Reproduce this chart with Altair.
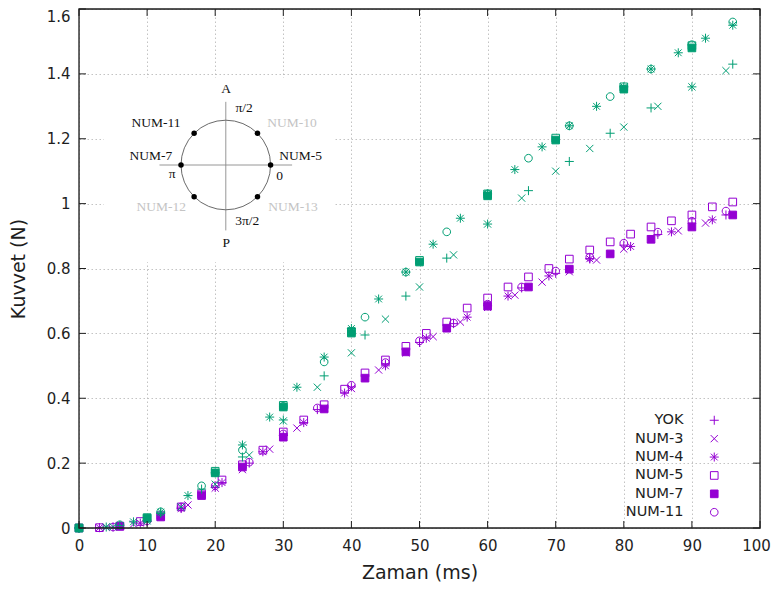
import altair as alt
import pandas as pd

SERIES = ["YOK", "NUM-3", "NUM-4", "NUM-5", "NUM-7", "NUM-11"]
GREEN = "#009e73"
PURPLE = "#9400d3"
INK = "#1e1e1e"

# ---- green group (upper curves) ----
G_YOK_T = [0, 6, 12, 18, 24, 30, 36, 42, 48, 54, 60, 66, 72, 78, 84, 90, 96]
G_YOK_F = [0, 0.008, 0.045, 0.12, 0.219, 0.333, 0.469, 0.595, 0.715, 0.832, 0.937, 1.04, 1.13, 1.217, 1.295, 1.36, 1.43]
G_N3_T = [0, 5, 10, 15, 20, 25, 30, 35, 40, 45, 50, 55, 60, 65, 70, 75, 80, 85, 90, 95]
G_N3_F = [0, 0.004, 0.022, 0.065, 0.135, 0.225, 0.33, 0.434, 0.54, 0.644, 0.743, 0.842, 0.937, 1.017, 1.10, 1.17, 1.236, 1.30, 1.36, 1.41]
G_N4_T = [0, 4, 8, 12, 16, 20, 24, 28, 32, 36, 40, 44, 48, 52, 56, 60, 64, 68, 72, 76, 80, 84, 88, 92, 96]
G_N4_F = [0, 0.003, 0.019, 0.049, 0.10, 0.17, 0.256, 0.342, 0.434, 0.527, 0.615, 0.706, 0.789, 0.875, 0.955, 1.03, 1.105, 1.175, 1.24, 1.30, 1.36, 1.415, 1.465, 1.51, 1.55]
G_N5_T = [0, 10, 20, 30, 40, 50, 60, 70, 80, 90]
G_N5_F = [0, 0.032, 0.175, 0.378, 0.606, 0.825, 1.03, 1.202, 1.36, 1.487]
G_N7_T = [0, 10, 20, 30, 40, 50, 60, 70, 80, 90]
G_N7_F = [0, 0.03, 0.17, 0.373, 0.601, 0.82, 1.024, 1.196, 1.353, 1.48]
G_N11_T = [0, 6, 12, 18, 24, 30, 36, 42, 48, 54, 60, 66, 72, 78, 84, 90, 96]
G_N11_F = [0, 0.01, 0.05, 0.13, 0.24, 0.375, 0.512, 0.65, 0.789, 0.913, 1.03, 1.14, 1.24, 1.33, 1.415, 1.49, 1.56]

# ---- purple group (lower curves) ----
P_YOK_T = [0, 5, 10, 15, 20, 25, 30, 35, 40, 45, 50, 55, 60, 65, 70, 75, 80, 85, 90, 95]
P_YOK_F = [0, 0.003, 0.02, 0.062, 0.125, 0.2, 0.285, 0.365, 0.435, 0.505, 0.572, 0.63, 0.685, 0.74, 0.785, 0.83, 0.872, 0.905, 0.94, 0.965]
P_N3_T = [0, 4, 8, 12, 16, 20, 24, 28, 32, 36, 40, 44, 48, 52, 56, 60, 64, 68, 72, 76, 80, 84, 88, 92]
P_N3_F = [0, 0.002, 0.012, 0.035, 0.071, 0.123, 0.18, 0.243, 0.308, 0.37, 0.43, 0.487, 0.54, 0.59, 0.635, 0.68, 0.718, 0.758, 0.79, 0.826, 0.86, 0.89, 0.916, 0.94]
P_N4_T = [3, 9, 15, 21, 27, 33, 39, 45, 51, 57, 63, 69, 75, 81, 87, 93]
P_N4_F = [0.001, 0.015, 0.06, 0.14, 0.235, 0.325, 0.416, 0.50, 0.585, 0.65, 0.715, 0.777, 0.83, 0.868, 0.913, 0.95]
P_N5_T = [3, 6, 9, 12, 15, 18, 21, 24, 27, 30, 33, 36, 39, 42, 45, 48, 51, 54, 57, 60, 63, 66, 69, 72, 75, 78, 81, 84, 87, 90, 93, 96]
P_N5_F = [0.001, 0.005, 0.02, 0.038, 0.065, 0.105, 0.148, 0.195, 0.24, 0.296, 0.333, 0.38, 0.428, 0.478, 0.518, 0.56, 0.60, 0.635, 0.678, 0.709, 0.743, 0.774, 0.80, 0.829, 0.857, 0.882, 0.906, 0.928, 0.947, 0.965, 0.99, 1.005]
P_N7_T = [0, 6, 12, 18, 24, 30, 36, 42, 48, 54, 60, 66, 72, 78, 84, 90, 96]
P_N7_F = [0, 0.006, 0.034, 0.10, 0.188, 0.28, 0.367, 0.462, 0.543, 0.616, 0.684, 0.743, 0.798, 0.845, 0.89, 0.928, 0.965]
P_N11_T = [0, 5, 10, 15, 20, 25, 30, 35, 40, 45, 50, 55, 60, 65, 70, 75, 80, 85, 90, 95]
P_N11_F = [0, 0.003, 0.022, 0.065, 0.13, 0.203, 0.29, 0.37, 0.44, 0.51, 0.577, 0.632, 0.69, 0.743, 0.792, 0.835, 0.878, 0.912, 0.946, 0.977]

X_TICKS = [0, 10, 20, 30, 40, 50, 60, 70, 80, 90, 100]
Y_TICKS = [0, 0.2, 0.4, 0.6, 0.8, 1.0, 1.2, 1.4, 1.6]

# ---- inset diagram (unit circle coordinates) ----
DOT_U = [1, 0.7071, -0.7071, -1, -0.7071, 0.7071]
DOT_V = [0, 0.7071, 0.7071, 0, -0.7071, -0.7071]
LAB_TEXT = ["A", "P", "π/2", "3π/2", "0", "π", "NUM-11", "NUM-10", "NUM-7", "NUM-5", "NUM-12", "NUM-13"]
LAB_U = [0.01, 0.01, 0.41, 0.48, 1.2, -1.2, -1.56, 1.48, -1.67, 1.67, -1.44, 1.5]
LAB_V = [1.69, -1.73, 1.28, -1.26, -0.24, -0.2, 0.93, 0.93, 0.2, 0.2, -0.94, -0.94]
LAB_COL = ["#111111", "#111111", "#111111", "#111111", "#111111", "#111111",
           "#111111", "#c4c4c4", "#111111", "#111111", "#c4c4c4", "#c4c4c4"]

PATHS = {
    "YOK": "M-1,0L1,0M0,-1L0,1",
    "NUM-3": "M-0.8,-0.8L0.8,0.8M-0.8,0.8L0.8,-0.8",
    "NUM-4": "M-1,0L1,0M0,-1L0,1M-0.75,-0.75L0.75,0.75M-0.75,0.75L0.75,-0.75",
    "NUM-5": "M-0.85,-0.85L0.85,-0.85L0.85,0.85L-0.85,0.85Z",
    "NUM-7": "M-0.85,-0.85L0.85,-0.85L0.85,0.85L-0.85,0.85Z",
    "NUM-11": "M0.85,0A0.85,0.85,0,1,1,-0.85,0A0.85,0.85,0,1,1,0.85,0Z",
}

W, H = 681, 519
TICK = 7


def frame(pairs):
    rows = []
    for name, ts, fs in pairs:
        for t, f in zip(ts, fs):
            rows.append({"series": name, "t": t, "f": f, "path": PATHS[name]})
    return pd.DataFrame(rows)


purple_df = frame([
    ("YOK", P_YOK_T, P_YOK_F), ("NUM-3", P_N3_T, P_N3_F), ("NUM-4", P_N4_T, P_N4_F),
    ("NUM-5", P_N5_T, P_N5_F), ("NUM-7", P_N7_T, P_N7_F), ("NUM-11", P_N11_T, P_N11_F),
])
green_open_df = frame([
    ("YOK", G_YOK_T, G_YOK_F), ("NUM-3", G_N3_T, G_N3_F), ("NUM-4", G_N4_T, G_N4_F),
    ("NUM-5", G_N5_T, G_N5_F), ("NUM-11", G_N11_T, G_N11_F),
])
green_fill_df = frame([("NUM-7", G_N7_T, G_N7_F)])

xs = alt.Scale(domain=[0, 100], nice=False, zero=False)
ys = alt.Scale(domain=[0, 1.6], nice=False, zero=False)

main_x_axis = alt.Axis(values=X_TICKS, grid=True, ticks=False, tickSize=0, domain=False, labelFlush=False,
                       labelOffset={"condition": {"test": "datum.value > 99", "value": -4}, "value": 0},
                       gridColor="#b4b4b4", gridDash=[1.5, 2.5], gridWidth=0.8,
                       labelFont="DejaVu Sans", labelFontSize=15, labelColor=INK, labelPadding=10,
                       title="Zaman (ms)", titleFont="DejaVu Sans", titleFontSize=19,
                       titleFontWeight="normal", titleColor=INK, titlePadding=10, orient="bottom")
main_y_axis = alt.Axis(values=Y_TICKS, grid=True, ticks=False, tickSize=0, domain=False, format="~g",
                       labelFlush=False,
                       labelOffset={"condition": {"test": "datum.value > 1.59", "value": 7}, "value": 0},
                       gridColor="#b4b4b4", gridDash=[1.5, 2.5], gridWidth=0.8,
                       labelFont="DejaVu Sans", labelFontSize=15, labelColor=INK, labelPadding=9,
                       title="Kuvvet (N)", titleFont="DejaVu Sans", titleFontSize=19,
                       titleFontWeight="normal", titleColor=INK, titlePadding=18, orient="left")

legend = alt.Legend(orient="none", legendX=628, legendY=404, title=None,
                    labelAlign="right", labelOffset={"expr": "-38"}, labelFont="DejaVu Sans",
                    labelFontSize=14.5, labelColor=INK, symbolStrokeColor=PURPLE,
                    symbolStrokeWidth=1, symbolSize=81, rowPadding=3.4, padding=0)

purple = alt.Chart(purple_df).mark_point(size=81, opacity=1, strokeWidth=1).encode(
    x=alt.X("t:Q", scale=xs, axis=main_x_axis),
    y=alt.Y("f:Q", scale=ys, axis=main_y_axis),
    stroke=alt.Stroke("series:N", scale=alt.Scale(domain=SERIES, range=[PURPLE] * 6), legend=legend),
    shape=alt.Shape("series:N", scale=alt.Scale(domain=SERIES, range=[PATHS[s] for s in SERIES]),
                    legend=legend),
    fill=alt.Fill("series:N", scale=alt.Scale(domain=SERIES,
                  range=["transparent", "transparent", "transparent", "transparent", PURPLE, "transparent"]),
                  legend=legend),
)

green_fill = alt.Chart(green_fill_df).mark_point(size=81, opacity=1, strokeWidth=1, filled=True,
                                                 shape=PATHS["NUM-7"]).encode(
    x=alt.X("t:Q", scale=xs, axis=None),
    y=alt.Y("f:Q", scale=ys, axis=None),
    fill=alt.value(GREEN),
    stroke=alt.value(GREEN),
)

green_open = alt.Chart(green_open_df).mark_point(size=81, opacity=1, strokeWidth=1).encode(
    x=alt.X("t:Q", scale=xs, axis=None),
    y=alt.Y("f:Q", scale=ys, axis=None),
    shape=alt.Shape("path:N", scale=None),
    fill=alt.value("transparent"),
    stroke=alt.value(GREEN),
)

# plot frame drawn through the scales (domain extremes)
frame_df = pd.DataFrame({"t0": [0], "t1": [100], "f0": [0], "f1": [1.6]})
border = alt.Chart(frame_df).mark_rect(fill="transparent", stroke=INK, strokeWidth=1.3).encode(
    x=alt.X("t0:Q", scale=xs, axis=None), x2="t1:Q",
    y=alt.Y("f0:Q", scale=ys, axis=None), y2="f1:Q",
)

# inward ticks on all four sides
xt_df = pd.DataFrame({"v": X_TICKS})
yt_df = pd.DataFrame({"v": Y_TICKS})
xt_bottom = alt.Chart(xt_df).mark_rule(color=INK, strokeWidth=1).encode(
    x=alt.X("v:Q", scale=xs, axis=None), y=alt.value(H), y2=alt.value(H - TICK))
xt_top = alt.Chart(xt_df).mark_rule(color=INK, strokeWidth=1).encode(
    x=alt.X("v:Q", scale=xs, axis=None), y=alt.value(0), y2=alt.value(TICK))
yt_left = alt.Chart(yt_df).mark_rule(color=INK, strokeWidth=1).encode(
    y=alt.Y("v:Q", scale=ys, axis=None), x=alt.value(0), x2=alt.value(TICK))
yt_right = alt.Chart(yt_df).mark_rule(color=INK, strokeWidth=1).encode(
    y=alt.Y("v:Q", scale=ys, axis=None), x=alt.value(W), x2=alt.value(W - TICK))

main = alt.layer(purple, green_fill, green_open, xt_bottom, xt_top, yt_left, yt_right, border
                 ).resolve_axis(x="independent", y="independent")

# inset scales: unit circle mapped to pixel range inside the plot
ixs = alt.Scale(domain=[-1, 1], range=[102.0, 191.6], nice=False, zero=False)
iys = alt.Scale(domain=[-1, 1], range=[200.8, 111.2], nice=False, zero=False)

box_df = pd.DataFrame({"u": [-2.72], "u2": [2.44], "v": [1.94], "v2": [-2.17]})
box = alt.Chart(box_df).mark_rect(fill="white").encode(
    x=alt.X("u:Q", scale=ixs, axis=None), x2="u2:Q",
    y=alt.Y("v:Q", scale=iys, axis=None), y2="v2:Q",
)
hline_df = pd.DataFrame({"u": [-1.48], "u2": [1.48], "v": [0]})
hline = alt.Chart(hline_df).mark_rule(color="#8a8a8a", strokeWidth=0.9).encode(
    x=alt.X("u:Q", scale=ixs, axis=None), x2="u2:Q", y=alt.Y("v:Q", scale=iys, axis=None))
vline_df = pd.DataFrame({"u": [0], "v": [1.41], "v2": [-1.46]})
vline = alt.Chart(vline_df).mark_rule(color="#8a8a8a", strokeWidth=0.9).encode(
    x=alt.X("u:Q", scale=ixs, axis=None), y=alt.Y("v:Q", scale=iys, axis=None), y2="v2:Q")
circ_df = pd.DataFrame({"u": [0], "v": [0]})
circ = alt.Chart(circ_df).mark_point(shape="circle", size=8028, filled=False, stroke="#6a6a6a",
                                     strokeWidth=1, opacity=1).encode(
    x=alt.X("u:Q", scale=ixs, axis=None), y=alt.Y("v:Q", scale=iys, axis=None))
dots_df = pd.DataFrame({"u": DOT_U, "v": DOT_V})
dots = alt.Chart(dots_df).mark_point(shape="circle", size=30, filled=True, color="#000000",
                                     opacity=1).encode(
    x=alt.X("u:Q", scale=ixs, axis=None), y=alt.Y("v:Q", scale=iys, axis=None))
lab_df = pd.DataFrame({"u": LAB_U, "v": LAB_V, "txt": LAB_TEXT, "col": LAB_COL})
labs = alt.Chart(lab_df).mark_text(font="Liberation Serif", fontSize=13.5, align="center",
                                   baseline="middle").encode(
    x=alt.X("u:Q", scale=ixs, axis=None), y=alt.Y("v:Q", scale=iys, axis=None),
    text="txt:N", color=alt.Color("col:N", scale=None))

inset = alt.layer(box, hline, vline, circ, dots, labs)

chart = alt.layer(main, inset).resolve_scale(x="independent", y="independent").properties(
    width=W, height=H,
    autosize=alt.AutoSizeParams(type="none"),
    padding={"left": 71, "top": 1, "right": 12, "bottom": 66},
).configure_view(stroke=None).configure(background="white")

chart.save("out.html", embed_options={"renderer": "svg", "actions": False})
